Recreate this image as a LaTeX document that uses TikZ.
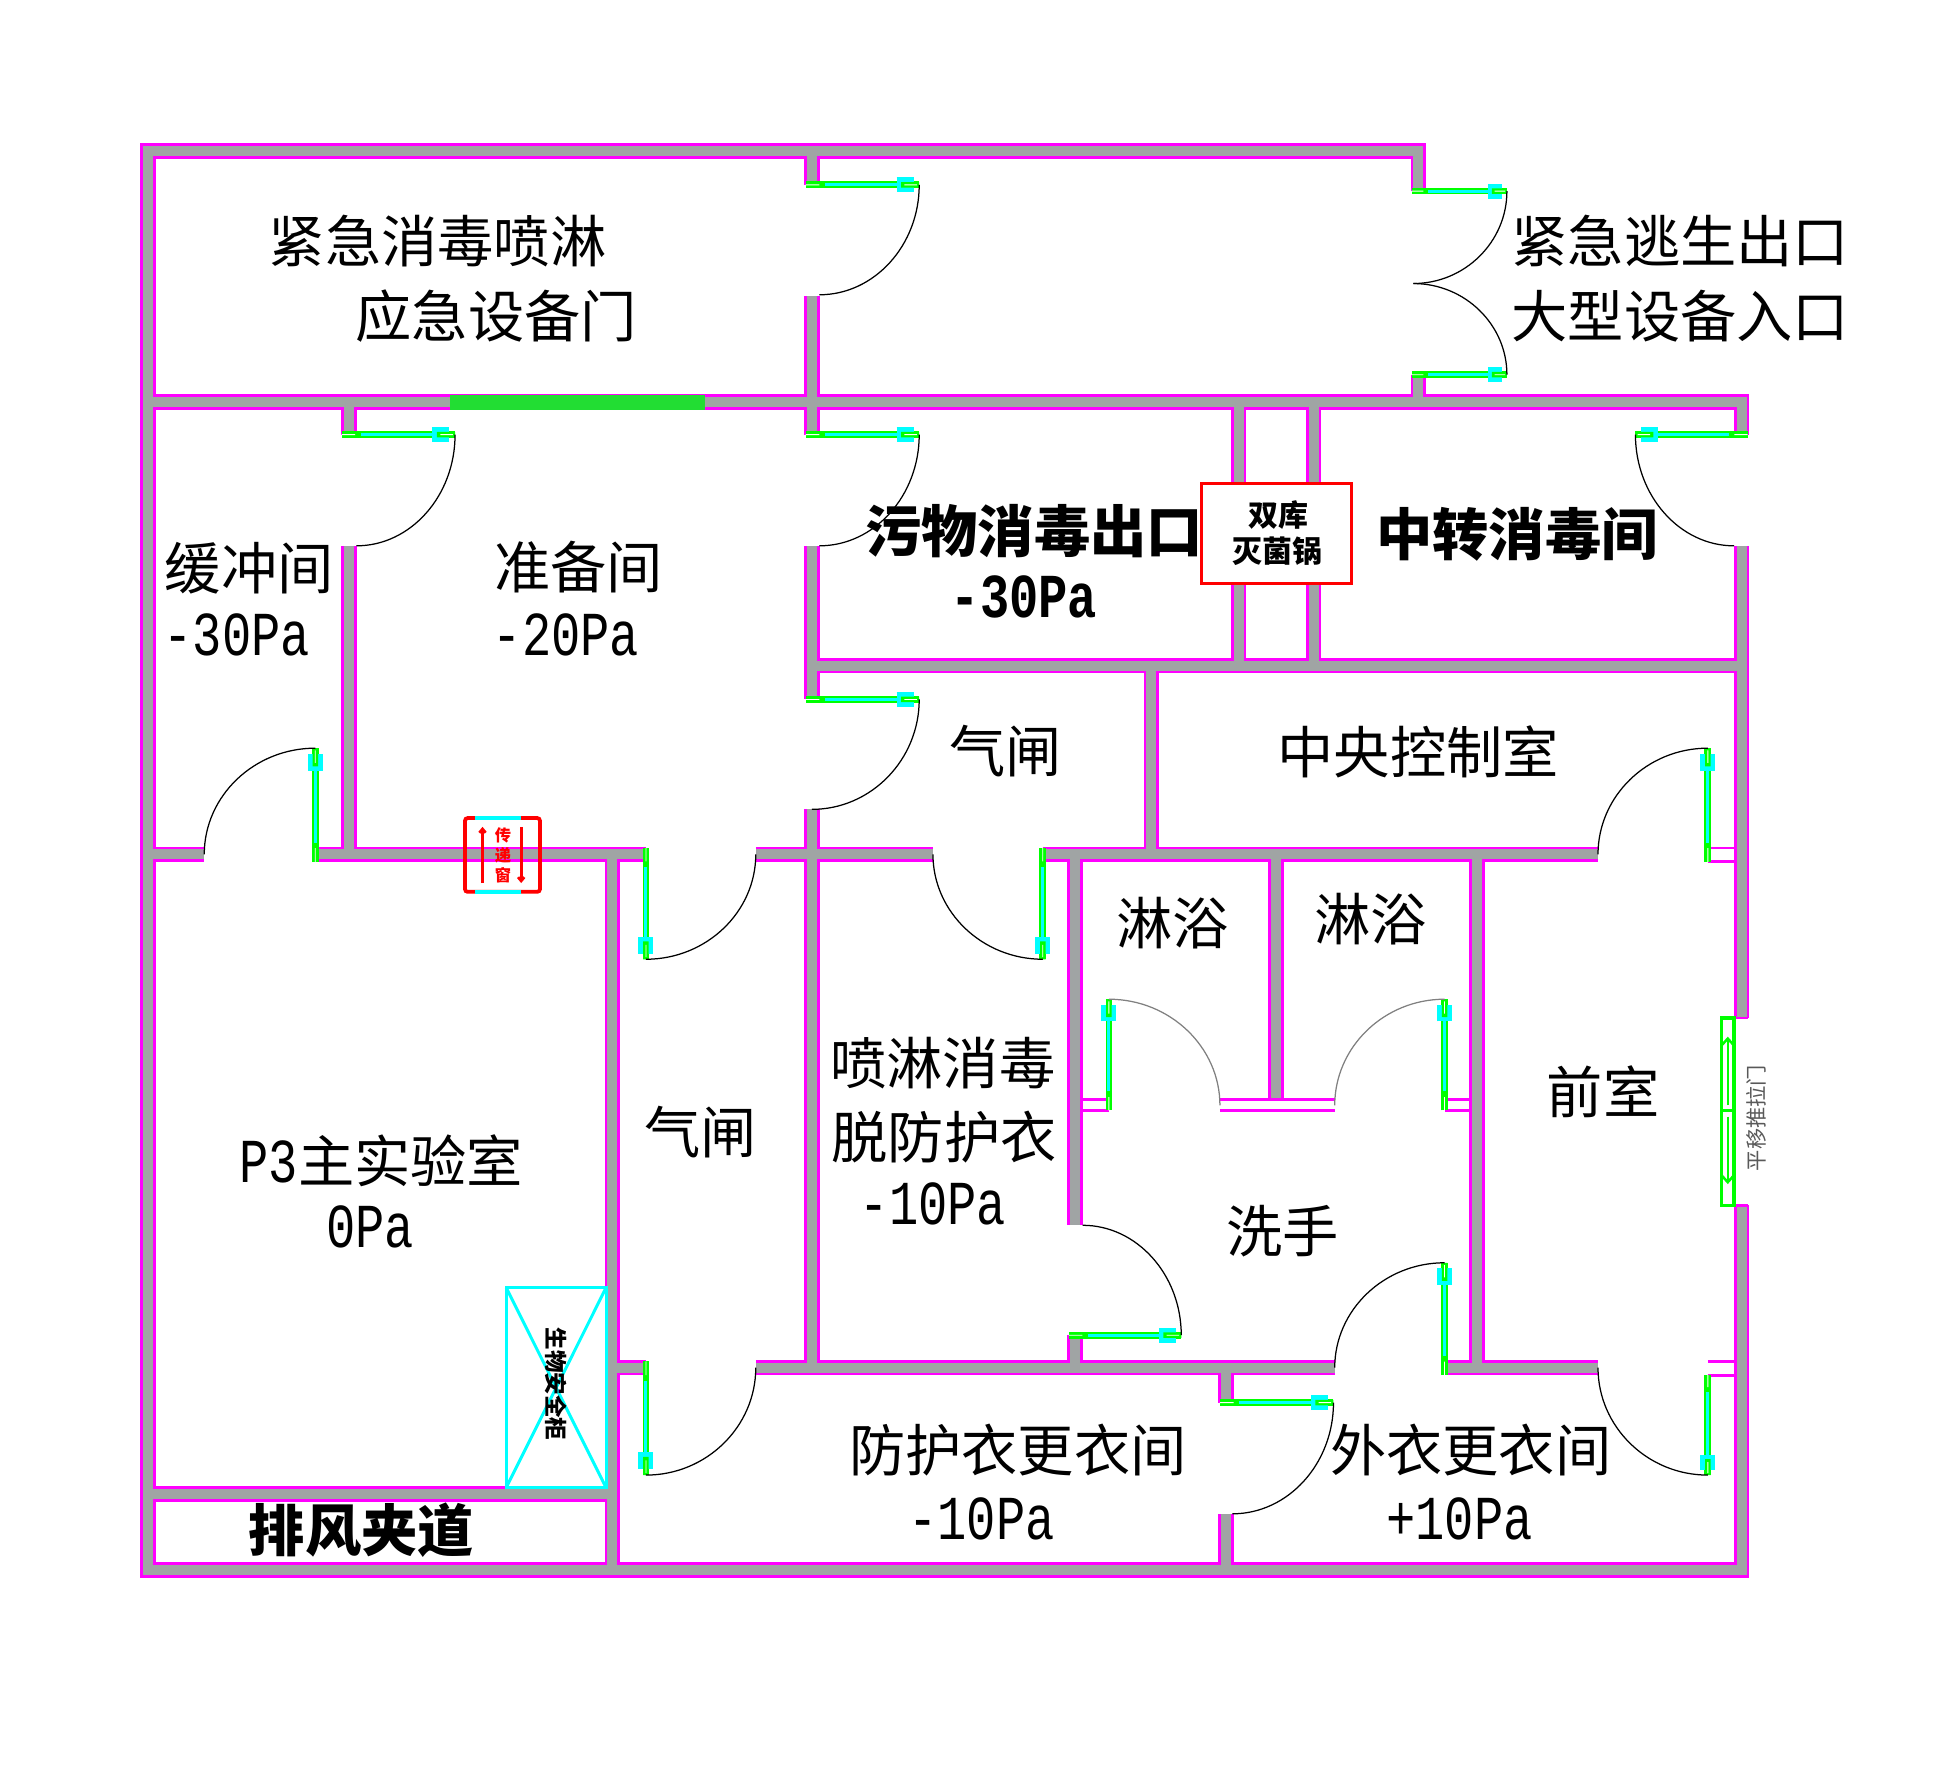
\documentclass[tikz,border=0pt]{standalone}
\usepackage{fontspec}
\setmainfont{Liberation Serif}
\newfontfamily\zhfont{Noto Sans CJK SC}
\newfontfamily\lafont[FakeStretch=0.78]{Liberation Mono}
\usetikzlibrary{calc}
\usetikzlibrary{arrows.meta}
\definecolor{wallpink}{HTML}{FF00FF}
\definecolor{wallgrey}{HTML}{A0A4A4}
\definecolor{leafgreen}{HTML}{00FF00}
\definecolor{leafcyan}{HTML}{00FFFF}
\definecolor{hatchgreen}{HTML}{22DD33}

\tikzset{
  wallout/.style={draw=wallpink,line width=12.4pt},
  wallin/.style={draw=wallgrey,line width=8pt},
  thinwall/.style={draw=wallpink,line width=2.2pt},
  swing/.style={draw=black,line width=1pt},
  swinggrey/.style={draw=gray,line width=1pt},
  room/.style={inner sep=0pt,font=\zhfont\fontsize{45}{50}\selectfont},
  roombold/.style={inner sep=0pt,font=\zhfont\bfseries\fontsize{45}{50}\selectfont},
  press/.style={inner sep=0pt,font=\lafont\fontsize{50}{54}\selectfont},
  pressbold/.style={inner sep=0pt,font=\lafont\bfseries\fontsize{50}{54}\selectfont},
}

% all solid walls, drawn twice so that the junctions stay open
\newcommand\allwalls[1]{
  \draw[#1] (1136,153) -- (1136,121) -- (118,121) -- (118,1257) -- (1395,1257) -- (1395,965);
  \draw[#1] (1136,300) -- (1136,322);
  \draw[#1] (118,322) -- (1395,322) -- (1395,348);
  \draw[#1] (1395,437) -- (1395,815);
  \draw[#1] (650,121) -- (650,148);
  \draw[#1] (650,237) -- (650,348);
  \draw[#1] (650,437) -- (650,560);
  \draw[#1] (650,648) -- (650,1095);
  \draw[#1] (279,322) -- (279,348);
  \draw[#1] (279,437) -- (279,684);
  \draw[#1] (118,684) -- (163,684);
  \draw[#1] (252,684) -- (517,684);
  \draw[#1] (605,684) -- (747,684);
  \draw[#1] (835,684) -- (1280,684);
  \draw[#1] (490,684) -- (490,1257);
  \draw[#1] (650,533) -- (1395,533);
  \draw[#1] (992,322) -- (992,533);
  \draw[#1] (1052,322) -- (1052,533);
  \draw[#1] (922,533) -- (922,684);
  \draw[#1] (861,684) -- (861,981);
  \draw[#1] (861,1069) -- (861,1095);
  \draw[#1] (1183,684) -- (1183,1095);
  \draw[#1] (1022,684) -- (1022,880);
  \draw[#1] (490,1095) -- (517,1095);
  \draw[#1] (605,1095) -- (1069,1095);
  \draw[#1] (1157,1095) -- (1280,1095);
  \draw[#1] (982,1095) -- (982,1123);
  \draw[#1] (982,1212) -- (982,1257);
  \draw[#1] (118,1196) -- (490,1196);
}

\newcommand\doorleaf[2]{
  \draw[leafgreen,line width=5.4pt] #1 -- #2;
  \draw[leafcyan,line width=2.4pt] ($#1!.17!#2$) -- ($#1!.8!#2$);
  \draw[leafcyan,line width=12pt] ($#1!.8!#2$) -- ($#1!.95!#2$);
  \draw[leafgreen,line width=4.4pt] ($#1!.84!#2$) -- #2;
  \draw[white,line width=.7pt] #1 -- ($#1!.12!#2$) ($#1!.87!#2$) -- ($#1!.98!#2$);
}
% leaves a vertically, reaches b horizontally
\newcommand\doorarc[5][swing]{
  \draw[#1] (#2,#3) .. controls (#2,{#3+.55*(#5-#3)}) and ({#4+.55*(#2-#4)},#5) .. (#4,#5);
}

\begin{document}
\begin{tikzpicture}[x=.9982pt,y=-.9992pt,xshift=.7pt]
  \useasboundingbox (-.7pt,0pt) rectangle (1564.9pt,-1413.6pt);

  \allwalls{wallout}
  \allwalls{wallin}

  % walls that are only two lines
  \draw[thinwall] (1368,679) -- (1389,679) (1368,690) -- (1389,690);
  \draw[thinwall] (1368,1090) -- (1389,1090) (1368,1101) -- (1389,1101);
  \draw[thinwall] (867,880) -- (888,880) (867,889) -- (888,889);
  \draw[thinwall] (977,880) -- (1069,880) (977,889) -- (1069,889);
  \draw[thinwall] (1157,880) -- (1178,880) (1157,889) -- (1178,889);
  \draw[thinwall] (1389,815) -- (1400,815) (1389,965) -- (1400,965);

  \fill[hatchgreen] (360,316) rectangle (564,328);

  % door leaves and swings
  \doorleaf{(645,148)}{(736,148)}   \doorarc{736}{148}{656}{236}
  \doorleaf{(1131,153)}{(1207,153)} \doorarc{1207}{153}{1132}{227}
  \doorleaf{(1131,300)}{(1207,300)} \doorarc{1207}{300}{1132}{227}
  \doorleaf{(273,348)}{(364,348)}   \doorarc{364}{348}{285}{437}
  \doorleaf{(645,348)}{(736,348)}   \doorarc{736}{348}{656}{437}
  \doorleaf{(1400,348)}{(1310,348)} \doorarc{1310}{348}{1389}{437}
  \doorleaf{(645,560)}{(736,560)}   \doorarc{736}{560}{650}{648}
  \doorleaf{(252,690)}{(252,599)}   \doorarc{163}{684}{252}{599}
  \doorleaf{(517,679)}{(517,768)}   \doorarc{605}{684}{517}{768}
  \doorleaf{(835,679)}{(835,768)}   \doorarc{747}{684}{835}{768}
  \doorleaf{(1368,690)}{(1368,599)} \doorarc{1280}{684}{1368}{599}
  \doorleaf{(888,889)}{(888,800)}   \doorarc[swinggrey]{977}{885}{888}{800}
  \doorleaf{(1157,889)}{(1157,800)} \doorarc[swinggrey]{1069}{885}{1157}{800}
  \doorleaf{(856,1069)}{(946,1069)} \doorarc{946}{1069}{867}{981}
  \doorleaf{(1157,1101)}{(1157,1011)} \doorarc{1069}{1095}{1157}{1011}
  \doorleaf{(517,1090)}{(517,1181)} \doorarc{605}{1095}{517}{1181}
  \doorleaf{(1368,1101)}{(1368,1181)} \doorarc{1280}{1095}{1368}{1181}
  \doorleaf{(977,1123)}{(1068,1123)} \doorarc{1068}{1123}{987}{1212}

  % sliding door
  \draw[leafgreen,line width=2.8pt] (1379,815) rectangle (1389,965) (1379,889) -- (1389,889);
  \draw[leafgreen,line width=2pt,-{Straight Barb[length=5pt,width=9pt]}] (1384,885) -- (1384,830);
  \draw[leafgreen,line width=2pt,-{Straight Barb[length=5pt,width=9pt]}] (1384,894) -- (1384,948);
  \node[inner sep=0pt,text=black!65,rotate=90,font=\zhfont\fontsize{17}{18}\selectfont] (slidetext) at (1407,895) {平移推拉门};

  % double autoclave
  \node[draw=red,fill=white,line width=2.4pt,minimum width=120pt,minimum height=80pt,inner sep=0pt] (autoclave) at (1022.5,427.5) {};
  \node[inner sep=0pt,font=\zhfont\bfseries\fontsize{24}{26}\selectfont] (autoclaveA) at (1024,412) {双库};
  \node[inner sep=0pt,font=\zhfont\bfseries\fontsize{24}{26}\selectfont] (autoclaveB) at (1023,441) {灭菌锅};

  % pass box
  \draw[red,line width=3pt,rounded corners=2pt] (372,655) rectangle (432,714);
  \draw[leafcyan,line width=3pt] (380,655) -- (417,655) (380,714) -- (417,714);
  \draw[red,line width=2.2pt,-{Straight Barb[length=3pt,width=5pt]}] (386,707) -- (386,662);
  \draw[red,line width=2.2pt,-{Straight Barb[length=3pt,width=5pt]}] (417,662) -- (417,707);
  \node[inner sep=0pt,text=red,align=center,font=\zhfont\bfseries\fontsize{13}{16}\selectfont] (passbox) at (402.5,685) {传\\递\\窗};

  % safety cabinet
  \draw[leafcyan,line width=2.4pt] (405,1031) rectangle (485,1191);
  \draw[leafcyan,line width=2.4pt] (405,1031) -- (485,1191) (485,1031) -- (405,1191);
  \node[inner sep=0pt,rotate=-90,font=\zhfont\bfseries\fontsize{18}{20}\selectfont] (cabinet) at (445,1108) {生物安全柜};

  \node[room] (urgentA) at (350,193) {紧急消毒喷淋};
  \node[room] (urgentB) at (397,253) {应急设备门};
  \node[room] (exitA) at (1346,193) {紧急逃生出口};
  \node[room] (exitB) at (1346,253) {大型设备入口};
  \node[room] (buffer) at (199,455) {缓冲间};
  \node[press] (bufferp) at (189,508) {-30Pa};
  \node[room] (prep) at (463,454) {准备间};
  \node[press] (prepp) at (453,508) {-20Pa};
  \node[roombold] (waste) at (828,425) {污物消毒出口};
  \node[pressbold] (wastep) at (820,478) {-30Pa};
  \node[roombold] (transfer) at (1215,428) {中转消毒间};
  \node[room] (lockA) at (805,601) {气闸};
  \node[room] (control) at (1136,602) {中央控制室};
  \node[room] (showerA) at (939,739) {淋浴};
  \node[room] (showerB) at (1098,736) {淋浴};
  \node[room] (sprayA) at (755,851) {喷淋消毒};
  \node[room] (sprayB) at (756,910) {脱防护衣};
  \node[press] (sprayp) at (747,964) {-10Pa};
  \node[room] (lockB) at (561,906) {气闸};
  \node[room] (front) at (1284,874) {前室};
  \node[room] (wash) at (1027,986) {洗手};
  \node[room] (mainlab) at (305,929) {{\lafont\fontsize{50}{54}\selectfont P3}主实验室};
  \node[press] (mainlabp) at (296,982) {0Pa};
  \node[room] (gown) at (815,1161) {防护衣更衣间};
  \node[press] (gownp) at (786,1216) {-10Pa};
  \node[room] (coat) at (1178,1161) {外衣更衣间};
  \node[press] (coatp) at (1169,1216) {+10Pa};
  \node[roombold] (exhaust) at (289,1225) {排风夹道};
\end{tikzpicture}
\end{document}
